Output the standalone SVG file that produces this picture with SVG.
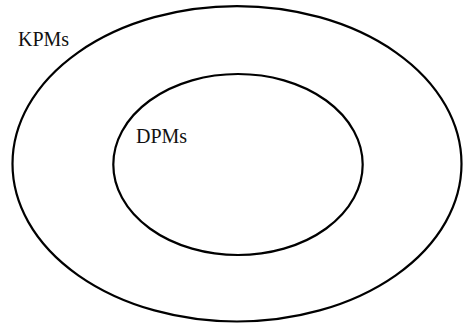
<svg xmlns="http://www.w3.org/2000/svg" width="463" height="324" viewBox="0 0 463 324">
<style>
.ring{fill:none;stroke:#000;stroke-width:2.2}
.lbl{font-family:"Liberation Serif",serif;font-size:20px;fill:#111}
</style>
<rect width="463" height="324" fill="#fff"/>
<g id="outer">
<ellipse class="ring" cx="237" cy="163.8" rx="224.5" ry="157.7"/>
<text class="lbl" x="18" y="46">KPMs</text>
</g>
<g id="inner">
<ellipse class="ring" cx="238" cy="164.5" rx="124.7" ry="90.5"/>
<text class="lbl" x="136" y="142.5">DPMs</text>
</g>
<g id="connectors"/>
</svg>
